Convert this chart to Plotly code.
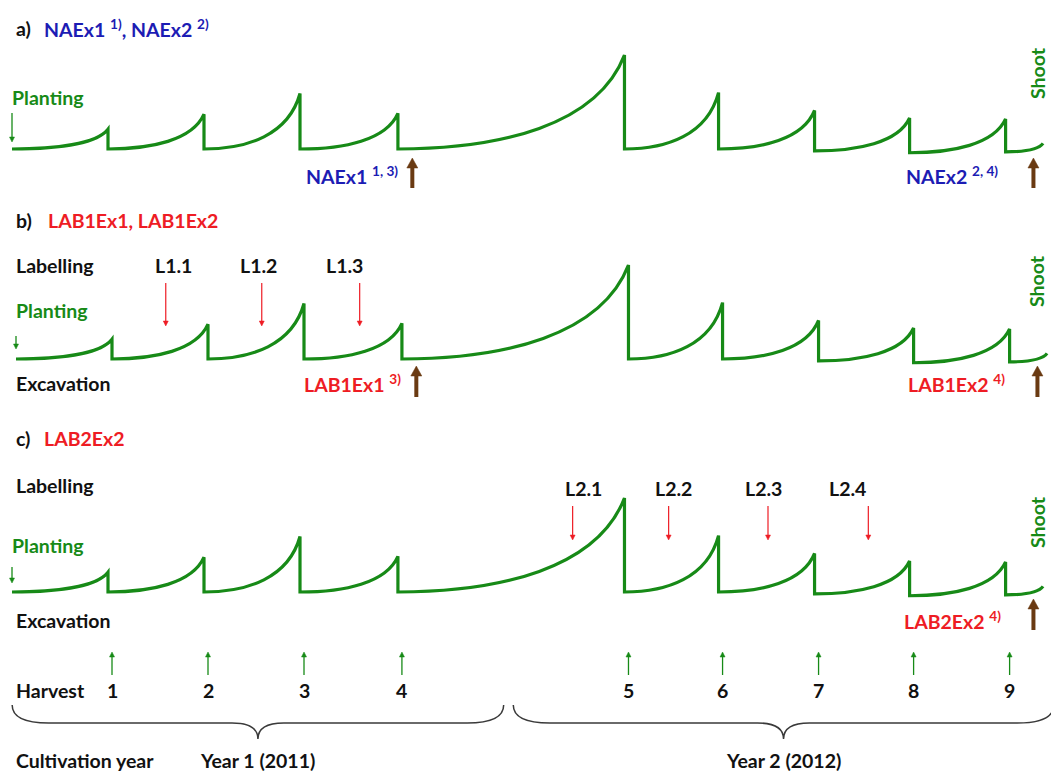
import plotly.graph_objects as go

W, H = 1051, 772

# ---------------- data ----------------
# time in "harvest-cycle" units (planting = 0), shoot biomass relative (cut 5 = 100)
planting_time = 0.0
harvest_no = ['1', '2', '3', '4', '5', '6', '7', '8', '9']
harvest_time = [1.0, 2.0, 3.0, 4.02, 6.38, 7.36, 8.36, 9.35, 10.35]
shoot_before_cut = [21, 37, 59, 38, 100, 60, 41, 33, 32]
shoot_after_cut = [0, 0, 0, 0, 0, 0, -2, -4, -3]
final_time = 10.74
final_shoot = 6
excavation_time = [4.17, 10.64]
labelling1_time = [1.56, 2.56, 3.58]
labelling1_name = ['L1.1', 'L1.2', 'L1.3']
labelling2_time = [5.84, 6.84, 7.875, 8.92]
labelling2_name = ['L2.1', 'L2.2', 'L2.3', 'L2.4']
year_name = ['Year 1 (2011)', 'Year 2 (2012)']
year_start = [-0.04, 5.18]
year_end = [5.08, 10.81]

# ---------------- styles ----------------
GREEN = '#178a17'
BLUE = '#1c1cb4'
RED = '#ee1c24'
BROWN = '#6a3a12'
BLACK = '#111111'
FONT = 'Lato'
FS = 19.5

T0_PX, PX_PER_T = 12, 96.0
PX_PER_UNIT = 0.94
panels = [dict(top=0, bottom=200, base=149),
          dict(top=200, bottom=420, base=359),
          dict(top=420, bottom=640, base=592)]


def px(x):
    return x / W


def py(y):
    return 1 - y / H


fig = go.Figure()

layout = dict(width=W, height=H, margin=dict(l=0, r=0, t=0, b=0),
              paper_bgcolor='white', plot_bgcolor='rgba(0,0,0,0)', showlegend=False)
xr = [(0 - T0_PX) / PX_PER_T, (W - T0_PX) / PX_PER_T]
shift_b = 4 / PX_PER_T
axis_off = dict(visible=False, showgrid=False, zeroline=False, fixedrange=True)
layout['xaxis'] = dict(range=xr, domain=[0, 1], **axis_off)
layout['xaxis2'] = dict(range=[xr[0] - shift_b, xr[1] - shift_b], domain=[0, 1], **axis_off)
yax = ['y', 'y2', 'y3']
xax = ['x', 'x2', 'x']
for i, p in enumerate(panels):
    lo = -(p['bottom'] - p['base']) / PX_PER_UNIT
    hi = (p['base'] - p['top']) / PX_PER_UNIT
    key = 'yaxis' if i == 0 else f'yaxis{i + 1}'
    layout[key] = dict(range=[lo, hi], domain=[1 - p['bottom'] / H, 1 - p['top'] / H],
                       anchor=xax[i], **axis_off)
    fig.add_trace(go.Scatter(x=[planting_time], y=[0], mode='markers', marker=dict(opacity=0),
                             xaxis=xax[i], yaxis=yax[i], hoverinfo='skip'))
fig.update_layout(**layout)


def seg(x0, y0, x1, y1):
    w, h = x1 - x0, y1 - y0
    return f" C {x0 + 0.45 * w},{y0} {x0 + 0.88 * w},{y0 + 0.25 * h} {x1},{y1}"


path = f"M {planting_time},0"
px_, py_ = planting_time, 0
for t, top, low in zip(harvest_time, shoot_before_cut, shoot_after_cut):
    path += seg(px_, py_, t, top)
    path += f" L {t},{low}"
    px_, py_ = t, low
path += seg(px_, py_, final_time, final_shoot)

for i in range(3):
    fig.add_shape(type='path', path=path, xref=xax[i], yref=yax[i],
                  line=dict(color=GREEN, width=3.2), layer='above')


def text(x, y, s, color=BLACK, size=FS, anchor='left', xref='paper', angle=0):
    fig.add_annotation(x=x if xref != 'paper' else px(x), y=py(y), xref=xref, yref='paper',
                       text=s, showarrow=False, xanchor=anchor, yanchor='middle',
                       textangle=angle,
                       font=dict(family=FONT, size=size, color=color, weight='bold'))


def arrow(x, tip, tail, color, width, head_len, head_w, xref='x'):
    """Vertical arrow at data-x `x`; tip/tail given in pixel rows."""
    d = 1 if tail > tip else -1          # +1: arrow points up
    base = tip + d * head_len
    fig.add_shape(type='line', x0=x, x1=x, y0=py(tail), y1=py(base), xref=xref, yref='paper',
                  line=dict(color=color, width=width))
    hw = head_w / 2 / PX_PER_T
    fig.add_shape(type='path', xref=xref, yref='paper',
                  path=f"M {x - hw},{py(base)} L {x},{py(tip)} L {x + hw},{py(base)} Z",
                  fillcolor=color, line=dict(color=color, width=0.5))


# ---- panel a ----
text(14, 28, 'a)')
text(42, 28, 'NAEx1 <sup>1)</sup>, NAEx2 <sup>2)</sup>', BLUE)
text(10, 97, 'Planting', GREEN)
arrow(planting_time, 142, 113, GREEN, 1.3, 5, 5)
text(400, 175, 'NAEx1 <sup>1, 3)</sup>', BLUE, anchor='right')
text(1000, 175, 'NAEx2 <sup>2, 4)</sup>', BLUE, anchor='right')
for t in excavation_time:
    arrow(t, 158, 188, BROWN, 4, 10, 11)
text(1037, 73, 'Shoot', GREEN, angle=-90, anchor='center')

# ---- panel b ----
text(14, 220, 'b)')
text(46, 220, 'LAB1Ex1, LAB1Ex2', RED)
text(14, 265, 'Labelling')
label1_px = [173, 258, 344]
for t, name, lp in zip(labelling1_time, labelling1_name, label1_px):
    text(lp, 265, name, anchor='center')
    arrow(t, 326, 283, RED, 1.2, 5, 5, xref='x2')
text(14, 310, 'Planting', GREEN)
arrow(planting_time, 349, 336, GREEN, 1.3, 5, 5, xref='x2')
text(14, 383, 'Excavation')
text(403, 383, 'LAB1Ex1 <sup>3)</sup>', RED, anchor='right')
text(1007, 383, 'LAB1Ex2 <sup>4)</sup>', RED, anchor='right')
for t in excavation_time:
    arrow(t, 366, 397, BROWN, 4, 10, 11, xref='x2')
text(1037, 281, 'Shoot', GREEN, angle=-90, anchor='center')

# ---- panel c ----
text(14, 438, 'c)')
text(42, 438, 'LAB2Ex2', RED)
text(14, 485, 'Labelling')
label2_px = [583, 673, 763, 847]
for t, name, lp in zip(labelling2_time, labelling2_name, label2_px):
    text(lp, 488, name, anchor='center')
    arrow(t, 540, 506, RED, 1.2, 5, 5)
text(10, 545, 'Planting', GREEN)
arrow(planting_time, 583, 567, GREEN, 1.3, 5, 5)
text(14, 620, 'Excavation')
text(1003, 620, 'LAB2Ex2 <sup>4)</sup>', RED, anchor='right')
arrow(excavation_time[1], 599, 630, BROWN, 4, 10, 11)
text(1037, 522, 'Shoot', GREEN, angle=-90, anchor='center')

# ---- harvest row ----
text(14, 690, 'Harvest')
for t, n in zip(harvest_time, harvest_no):
    arrow(t, 652, 675, GREEN, 1.3, 5, 5, xref='x2')
    text(t, 690, n, anchor='center', xref='x2')

# ---- cultivation years (braces) ----
text(14, 760, 'Cultivation year')
y_end, y_mid, y_tip = py(705), py(723), py(739)
for a, b, name in zip(year_start, year_end, year_name):
    m = (a + b) / 2
    we, wt = 0.38, 0.27
    bp = (f"M {a},{y_end} Q {a},{y_mid} {a + we},{y_mid} L {m - wt},{y_mid} "
          f"Q {m},{y_mid} {m},{y_tip} Q {m},{y_mid} {m + wt},{y_mid} "
          f"L {b - we},{y_mid} Q {b},{y_mid} {b},{y_end}")
    fig.add_shape(type='path', path=bp, xref='x2', yref='paper',
                  line=dict(color='#3a3a3a', width=1.5))
    text(m, 760, name, anchor='center', xref='x2')

fig.write_html('out.html', config={'displayModeBar': False, 'staticPlot': True},
               post_script="document.body.style.margin='0';document.body.style.overflow='hidden';")
